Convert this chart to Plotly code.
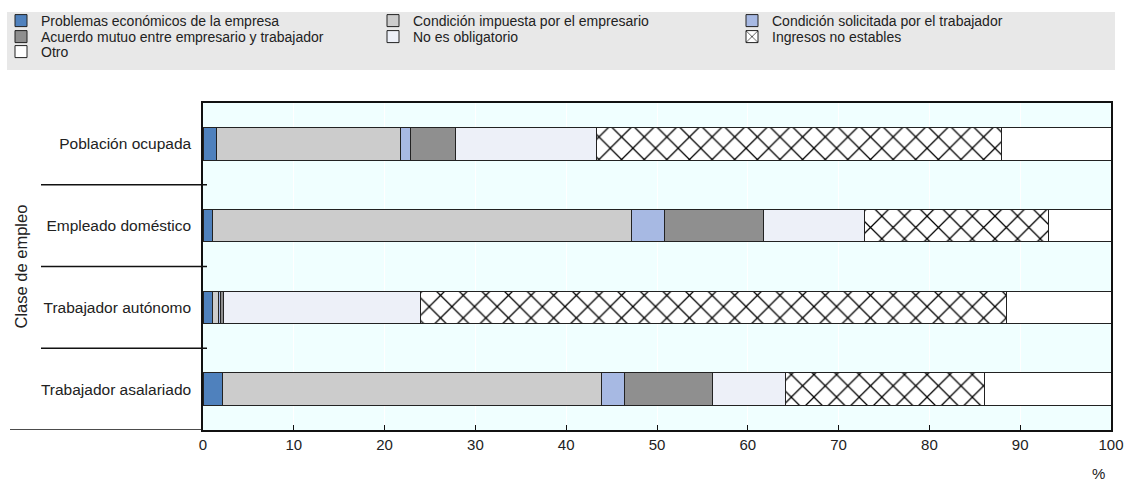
import plotly.graph_objects as go

categories = ["Población ocupada", "Empleado doméstico", "Trabajador autónomo", "Trabajador asalariado"]

problemas_economicos = [1.5, 1.1, 1.1, 2.1]
condicion_impuesta = [20.3, 46.1, 0.6, 41.8]
condicion_solicitada = [1.1, 3.6, 0.2, 2.5]
acuerdo_mutuo = [4.9, 10.9, 0.4, 9.7]
no_obligatorio = [15.5, 11.1, 21.6, 8.1]
ingresos_no_estables = [44.6, 20.3, 64.6, 21.9]
otro = [12.1, 6.9, 11.5, 13.9]

x_ticks = [0, 10, 20, 30, 40, 50, 60, 70, 80, 90, 100]

series = [
    ("Problemas económicos de la empresa", problemas_economicos, "#4F81BD", None),
    ("Condición impuesta por el empresario", condicion_impuesta, "#CCCCCC", None),
    ("Condición solicitada por el trabajador", condicion_solicitada, "#A7B9E3", None),
    ("Acuerdo mutuo entre empresario y trabajador", acuerdo_mutuo, "#8F8F8F", None),
    ("No es obligatorio", no_obligatorio, "#EDF0F8", None),
    ("Ingresos no estables", ingresos_no_estables, "#FFFFFF", "x"),
    ("Otro", otro, "#FFFFFF", None),
]

# legend grid slots (text start x, row center y) in pixels
legend_text_x = [41, 413, 772, 41, 413, 772, 41]
legend_row_y = [21, 21, 21, 37, 37, 37, 52]

FONT = "Liberation Sans, Arial, sans-serif"

W, H = 1128, 483
L, R, T, B = 203, 17, 103, 53
pw = W - L - R
ph = H - T - B

def px(xpix):
    return (xpix - L) / pw

def py(ypix):
    return (H - B - ypix) / ph

fig = go.Figure()
legend_layouts = {}
for i, (name, vals, color, pat) in enumerate(series):
    marker = dict(color=color, line=dict(color="#222222", width=1))
    if pat:
        marker["pattern"] = dict(shape=pat, fgcolor="#000000", bgcolor="#FFFFFF",
                                 fgopacity=1, size=16, solidity=0.15, fillmode="overlay")
    leg = "legend" if i == 0 else f"legend{i + 1}"
    fig.add_trace(go.Bar(
        y=categories, x=vals, name=name, orientation="h",
        marker=marker, width=0.4, legend=leg, showlegend=True,
    ))
    legend_layouts[leg] = dict(
        orientation="v", xref="paper", yref="container",
        x=px(legend_text_x[i] - 40), y=1 - legend_row_y[i] / H,
        xanchor="left", yanchor="middle", bgcolor="rgba(0,0,0,0)",
        font=dict(family=FONT, size=14, color="#222222"), itemclick=False,
        visible=True,
    )

shapes = []
shapes.append(dict(type="rect", xref="paper", yref="paper",
                   x0=px(7), x1=px(1115), y0=py(70), y1=py(12),
                   fillcolor="#E8E8E8", line=dict(width=0), layer="below"))
for yv in [0.5, 1.5, 2.5]:
    shapes.append(dict(type="line", xref="paper", yref="y",
                       x0=px(41), x1=px(207), y0=yv, y1=yv,
                       line=dict(color="#111111", width=1.5)))
shapes.append(dict(type="line", xref="paper", yref="y",
                   x0=px(10), x1=0, y0=3.5, y1=3.5,
                   line=dict(color="#111111", width=1.5)))

fig.update_layout(
    width=W, height=H,
    showlegend=True,
    margin=dict(l=L, r=R, t=T, b=B, autoexpand=False),
    barmode="stack",
    paper_bgcolor="white",
    plot_bgcolor="#F0FFFF",
    font=dict(family=FONT, size=14, color="#222222"),
    shapes=shapes,
    xaxis=dict(range=[0, 100], tickvals=x_ticks, showgrid=True, gridcolor="white",
               gridwidth=1, showline=True, linecolor="#111111", linewidth=1.5,
               mirror=True, ticks="inside", ticklen=5, tickcolor="#111111",
               zeroline=False, tickfont=dict(size=15), automargin=False),
    yaxis=dict(type="category", categoryarray=categories, range=[3.5, -0.5],
               showgrid=False, showline=True, linecolor="#111111", linewidth=1.5,
               mirror=True, ticks="", ticklabelstandoff=7, tickfont=dict(size=15.5),
               automargin=False),
    annotations=[
        dict(text="Clase de empleo", xref="paper", yref="paper", x=px(20), y=0.5,
             textangle=-90, showarrow=False, font=dict(size=16.5),
             xanchor="center", yanchor="middle"),
        dict(text="%", xref="paper", yref="paper", x=px(1098), y=py(473),
             showarrow=False, font=dict(size=15), xanchor="center", yanchor="middle"),
    ],
    **legend_layouts,
)

fig.write_html("out.html", config={"displayModeBar": False},
               post_script="document.body.style.margin='0';")
